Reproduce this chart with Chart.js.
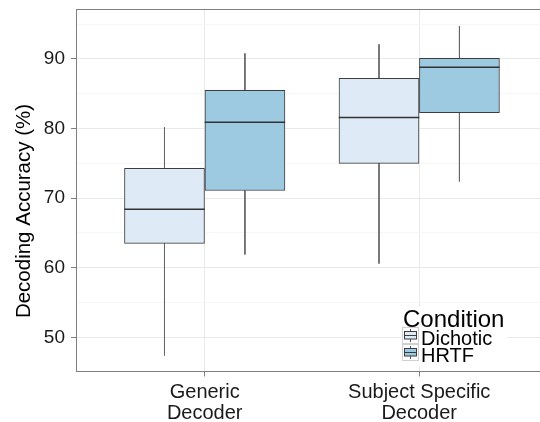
<!DOCTYPE html>
<html>
<head>
<meta charset="utf-8">
<script src="https://cdn.jsdelivr.net/npm/chart.js@4.4.1/dist/chart.umd.min.js"></script>
<style>
  html, body { margin: 0; padding: 0; background: #fff; }
  #wrap { width: 540px; height: 422px; }
</style>
</head>
<body>
<div id="wrap"><canvas id="my-chart" width="540" height="422"></canvas></div>
<script>
// values
const decoders = [['Generic', 'Decoder'], ['Subject Specific', 'Decoder']]
const conditions = ['Dichotic', 'HRTF']
const yTicks = [50, 60, 70, 80, 90]
const yMinorTicks = [55, 65, 75, 85, 95]

// one entry per decoder: [Generic, Subject Specific]
const dichoticMin = [47.4, 60.6]
const dichoticQ1 = [63.5, 75.0]
const dichoticMedian = [68.4, 81.6]
const dichoticQ3 = [74.3, 87.2]
const dichoticMax = [80.2, 92.1]

const hrtfMin = [61.9, 72.4]
const hrtfQ1 = [71.1, 82.3]
const hrtfMedian = [80.9, 88.8]
const hrtfQ3 = [85.5, 90.1]
const hrtfMax = [90.8, 94.7]

const fills = ['#deebf7', '#9ecae1']
const font = '"Liberation Sans", Arial, Helvetica, sans-serif'

// dodge: each box is 0.375 wide, sitting either side of the decoder position
const half = 0.1875
const offsets = [-half, half]

const stats = [
  { min: dichoticMin, q1: dichoticQ1, med: dichoticMedian, q3: dichoticQ3, max: dichoticMax },
  { min: hrtfMin, q1: hrtfQ1, med: hrtfMedian, q3: hrtfQ3, max: hrtfMax },
]

const boxSets = stats.map((s, c) => ({
  type: 'bar',
  label: conditions[c],
  data: decoders.map((d, i) => ({ x: i + 1 + offsets[c], y: [s.q1[i], s.q3[i]] })),
  backgroundColor: fills[c],
  borderColor: '#3d3d3d',
  borderWidth: 1,
  borderSkipped: false,
  barThickness: 80,
  grouped: false,
}))

let medianPts = []
let whiskerPts = []
stats.forEach((s, c) => {
  decoders.forEach((d, i) => {
    const x = i + 1 + offsets[c]
    medianPts.push({ x: x - half, y: s.med[i] }, { x: x + half, y: s.med[i] }, { x: x + half, y: null })
    whiskerPts.push({ x: x, y: s.max[i] }, { x: x, y: s.q3[i] }, { x: x, y: null })
    whiskerPts.push({ x: x, y: s.q1[i] }, { x: x, y: s.min[i] }, { x: x, y: null })
  })
})

// panel top border, y title and the legend drawn inside the panel
const extras = {
  id: 'extras',
  afterDraw(chart) {
    const { ctx, chartArea } = chart
    ctx.save()
    ctx.strokeStyle = '#7f7f7f'
    ctx.lineWidth = 1
    ctx.beginPath()
    ctx.moveTo(chartArea.left, chartArea.top + 0.5)
    ctx.lineTo(chartArea.right, chartArea.top + 0.5)
    ctx.stroke()

    ctx.translate(30, 211)
    ctx.rotate(-Math.PI / 2)
    ctx.font = '20.5px ' + font
    ctx.textAlign = 'center'
    ctx.fillStyle = '#000'
    ctx.fillText('Decoding Accuracy (%)', 0, 0)
    ctx.restore()

    // legend
    ctx.save()
    ctx.fillStyle = '#fff'
    ctx.fillRect(401, 306, 106, 60)
    ctx.fillStyle = '#000'
    ctx.font = '24px ' + font
    ctx.textAlign = 'left'
    ctx.fillText('Condition', 403, 326.5)
    ctx.font = '20px ' + font
    conditions.forEach((name, c) => {
      const kx = 402, ky = 327 + c * 17, k = 17
      ctx.fillStyle = '#fff'
      ctx.fillRect(kx, ky, k, k)
      ctx.strokeStyle = '#d0d0d0'
      ctx.lineWidth = 1
      ctx.strokeRect(kx + 0.5, ky + 0.5, k - 1, k - 1)
      // mini box glyph
      ctx.strokeStyle = '#555'
      ctx.beginPath()
      ctx.moveTo(kx + 8.5, ky + 2); ctx.lineTo(kx + 8.5, ky + 5)
      ctx.moveTo(kx + 8.5, ky + 12); ctx.lineTo(kx + 8.5, ky + 15)
      ctx.stroke()
      ctx.fillStyle = fills[c]
      ctx.fillRect(kx + 2.5, ky + 5, 12, 7)
      ctx.strokeStyle = '#3d3d3d'
      ctx.strokeRect(kx + 2.5, ky + 4.5, 12, 7.5)
      ctx.beginPath()
      ctx.moveTo(kx + 2.5, ky + 8.5); ctx.lineTo(kx + 14.5, ky + 8.5)
      ctx.stroke()
      ctx.fillStyle = '#000'
      ctx.fillText(name, 421, 345 + c * 16.7)
    })
    ctx.restore()
  }
}

const data = {
  datasets: [
    {
      type: 'line',
      label: 'median',
      data: medianPts,
      borderColor: '#333',
      borderWidth: 1.5,
      pointRadius: 0,
      spanGaps: false,
    },
    ...boxSets,
    {
      type: 'line',
      label: 'whiskers',
      data: whiskerPts,
      borderColor: '#666',
      borderWidth: 1,
      pointRadius: 0,
      spanGaps: false,
    },
  ]
}

const options = {
  responsive: false,
  animation: false,
  layout: { padding: { top: 9, right: 0, bottom: 0, left: 0 } },
  plugins: {
    legend: { display: false },
    tooltip: { enabled: false },
  },
  scales: {
    x: {
      type: 'linear',
      offset: false,
      min: 0.4,
      max: 2.563,
      afterBuildTicks: (scale) => {
        scale.ticks = decoders.map((d, i) => ({ value: i + 1 }))
      },
      afterFit: (scale) => {
        scale.height = 50.5
        scale.paddingLeft = 0
        scale.paddingRight = 0
      },
      grid: {
        offset: false,
        color: '#e9e9e9',
        tickColor: '#7f7f7f',
        tickLength: 5,
      },
      border: { display: true, color: '#7f7f7f' },
      ticks: {
        autoSkip: false,
        maxRotation: 0,
        padding: 5,
        color: '#1a1a1a',
        font: { family: font, size: 20, lineHeight: 1.07 },
        callback: (value) => decoders[value - 1],
      },
    },
    y: {
      min: 45.09,
      max: 97.18,
      afterBuildTicks: (scale) => {
        scale.ticks = yTicks.concat(yMinorTicks).sort((a, b) => a - b).map(v => ({ value: v }))
      },
      afterFit: (scale) => {
        scale.width = 76
        scale.paddingTop = 0
        scale.paddingBottom = 0
      },
      grid: {
        color: (c) => yTicks.includes(c.tick.value) ? '#e9e9e9' : '#f6f6f6',
        tickColor: (c) => yTicks.includes(c.tick.value) ? '#7f7f7f' : 'rgba(0,0,0,0)',
        tickLength: 5,
      },
      border: { display: true, color: '#7f7f7f' },
      ticks: {
        autoSkip: false,
        padding: 6,
        color: '#1a1a1a',
        font: { family: font, size: 19 },
        callback: (value) => yTicks.includes(value) ? String(value) : '',
      },
    },
  },
}

const ctx = document.getElementById('my-chart').getContext('2d')
const myChart = new Chart(ctx, {
  type: 'bar',
  data: data,
  options: options,
  plugins: [extras],
})
</script>
</body>
</html>
